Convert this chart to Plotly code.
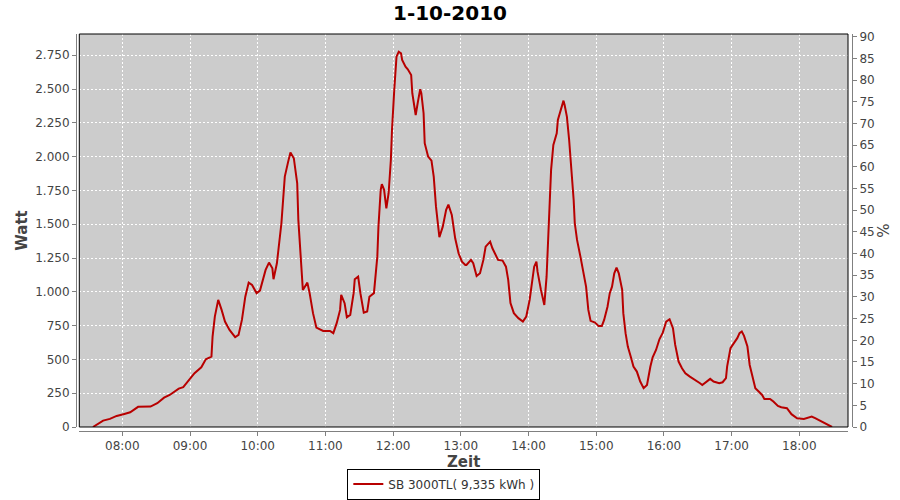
import plotly.graph_objects as go

day = "2010-10-01 "
times = [
    "07:34", "07:43", "07:49", "07:55", "08:01", "08:07", "08:14", "08:25", "08:31", "08:37",
    "08:42", "08:50", "08:54", "09:00", "09:04", "09:10", "09:14", "09:19", "09:20", "09:22",
    "09:25", "09:28", "09:31", "09:35", "09:40", "09:43", "09:46", "09:49", "09:52", "09:55",
    "09:59", "10:02", "10:07", "10:10", "10:13", "10:14", "10:17", "10:21", "10:24", "10:27",
    "10:29", "10:32", "10:35", "10:36", "10:38", "10:40", "10:44", "10:46", "10:49", "10:52",
    "10:58", "11:04", "11:07", "11:10", "11:13", "11:14", "11:17", "11:19", "11:22", "11:25",
    "11:26", "11:29", "11:31", "11:34", "11:37", "11:39", "11:43", "11:46", "11:47", "11:49",
    "11:50", "11:52", "11:54", "11:56", "11:58", "11:59", "12:01", "12:03", "12:05", "12:07",
    "12:08", "12:11", "12:13", "12:16", "12:17", "12:19", "12:20", "12:22", "12:24", "12:25",
    "12:27", "12:28", "12:31", "12:34", "12:36", "12:38", "12:40", "12:41", "12:44", "12:47",
    "12:49", "12:52", "12:55", "12:58", "13:01", "13:04", "13:05", "13:09", "13:11", "13:14",
    "13:17", "13:20", "13:22", "13:26", "13:28", "13:31", "13:33", "13:37", "13:40", "13:42",
    "13:44", "13:47", "13:51", "13:55", "13:58", "14:01", "14:03", "14:05", "14:07", "14:08",
    "14:11", "14:13", "14:14", "14:16", "14:17", "14:18", "14:19", "14:20", "14:22", "14:25",
    "14:26", "14:29", "14:31", "14:32", "14:34", "14:36", "14:38", "14:40", "14:41", "14:43",
    "14:46", "14:49", "14:51", "14:53", "14:55", "14:59", "15:02", "15:05", "15:07", "15:10",
    "15:12", "15:14", "15:16", "15:18", "15:20", "15:23", "15:24", "15:26", "15:28", "15:31",
    "15:33", "15:36", "15:39", "15:42", "15:45", "15:48", "15:50", "15:53", "15:56", "15:59",
    "16:02", "16:05", "16:08", "16:10", "16:13", "16:16", "16:19", "16:23", "16:28", "16:32",
    "16:34", "16:38", "16:41", "16:44", "16:49", "16:52", "16:55", "16:56", "16:59", "17:02",
    "17:05", "17:07", "17:09", "17:11", "17:14", "17:16", "17:18", "17:21", "17:24", "17:27",
    "17:29", "17:34", "17:37", "17:41", "17:44", "17:49", "17:53", "17:58", "18:04", "18:08",
    "18:11", "18:14", "18:18", "18:23", "18:26", "18:29",
]
watt = [
    0, 47, 60, 82, 95, 109, 149, 151, 176, 217,
    237, 284, 294, 361, 398, 442, 501, 521, 669, 817,
    940, 866, 780, 718, 664, 681, 792, 964, 1068, 1051,
    990, 1009, 1162, 1216, 1174, 1093, 1211, 1507, 1852, 1963,
    2030, 1988, 1803, 1532, 1236, 1014, 1068, 990, 842, 735,
    711, 711, 694, 768, 866, 977, 916, 812, 829, 990,
    1093, 1112, 990, 846, 854, 964, 990, 1260, 1482, 1754,
    1796, 1754, 1618, 1729, 1975, 2197, 2493, 2739, 2776, 2764,
    2715, 2665, 2646, 2604, 2469, 2345, 2308, 2407, 2498, 2469,
    2321, 2099, 2000, 1970, 1852, 1630, 1458, 1404, 1482, 1606,
    1645, 1569, 1396, 1285, 1223, 1199, 1199, 1236, 1211, 1117,
    1137, 1236, 1334, 1371, 1322, 1265, 1236, 1231, 1186, 1088,
    916, 842, 805, 780, 817, 940, 1064, 1186, 1223, 1149,
    1014, 927, 903, 1112, 1334, 1581, 1754, 1902, 2086, 2173,
    2271, 2358, 2414, 2382, 2296, 2123, 1926, 1680, 1507, 1384,
    1260, 1137, 1038, 866, 785, 772, 748, 748, 792, 890,
    990, 1038, 1137, 1179, 1137, 1014, 842, 694, 595, 509,
    447, 410, 336, 287, 311, 447, 516, 570, 649, 698,
    780, 797, 731, 607, 484, 435, 398, 373, 348, 324,
    311, 336, 356, 336, 324, 331, 361, 447, 583, 620,
    657, 694, 706, 674, 595, 459, 385, 287, 262, 237,
    208, 208, 188, 156, 146, 139, 95, 65, 60, 72,
    77, 65, 47, 23, 10, 0,
]
x_range = ["2010-10-01 07:21:53", "2010-10-01 18:43:08"]
watt_range = [0, 2907]
pct_range = [0, 90.66]
pct_ticks = list(range(0, 91, 5))
watt_ticks = list(range(0, 2751, 250))
series_name = "SB 3000TL( 9,335 kWh )"
title_text = "1-10-2010"

xs = [day + t for t in times]

font_family = "DejaVu Sans, Verdana, sans-serif"
tick_font = dict(family=font_family, size=12, color="#444444")
title_font = dict(family=font_family, size=15, color="#444444")

fig = go.Figure()
fig.add_trace(go.Scatter(
    x=xs, y=watt, mode="lines", name=series_name,
    line=dict(color="#B80000", width=2),
    showlegend=True, hoverinfo="x+y",
))
# placeholder trace (no visible points) so the percent axis is drawn
fig.add_trace(go.Scatter(
    x=xs, y=[None] * len(xs), yaxis="y2", mode="lines",
    showlegend=False, hoverinfo="skip", line=dict(width=0),
))

grid = dict(showgrid=True, gridcolor="white", gridwidth=1, griddash="2px,2px")

fig.update_layout(
    width=900, height=500,
    margin=dict(l=76, r=48, t=34, b=69, autoexpand=False),
    paper_bgcolor="white", plot_bgcolor="white",
    separators=",.",
    title=dict(text="<b>" + title_text + "</b>", x=0.5, xanchor="center",
               y=1 - 13 / 500, yanchor="middle",
               font=dict(family=font_family, size=20, color="black")),
    xaxis=dict(
        type="date", range=x_range, domain=[0.00425, 0.99485],
        anchor="free", position=0, automargin=False,
        tickformat="%H:%M", dtick=3600000, tick0="2010-10-01 08:00",
        ticks="outside", ticklen=4, tickcolor="#808080",
        showline=True, linecolor="#808080", linewidth=1,
        tickfont=tick_font,
        title=dict(text="<b>Zeit</b>", font=title_font, standoff=1),
        **grid,
    ),
    yaxis=dict(
        range=watt_range, domain=[0.01008, 1],
        anchor="free", position=0, automargin=False,
        tickvals=watt_ticks, tickformat=",d",
        ticks="outside", ticklen=4, tickcolor="#808080",
        showline=True, linecolor="#808080", linewidth=1,
        zeroline=False, tickfont=tick_font,
        title=dict(text="<b>Watt</b>", font=title_font, standoff=2),
        **grid,
    ),
    yaxis2=dict(
        range=pct_range, domain=[0.01008, 1], overlaying="y", side="right",
        anchor="free", position=1, automargin=False,
        tickvals=pct_ticks,
        ticks="outside", ticklen=4, tickcolor="#808080",
        showline=True, linecolor="#808080", linewidth=1,
        zeroline=False, showgrid=False, tickfont=tick_font,
        title=dict(text="%", font=title_font, standoff=3),
    ),
    legend=dict(
        orientation="h", x=0.474, xanchor="center", y=-0.0945, yanchor="top",
        bordercolor="black", borderwidth=1, bgcolor="white",
        font=dict(family=font_family, size=12, color="#333333"),
        itemwidth=30,
    ),
    shapes=[
        dict(type="rect", xref="x domain", yref="y domain", x0=0, x1=1, y0=0, y1=1,
             fillcolor="#CCCCCC", line=dict(width=0), layer="below"),
        dict(type="rect", xref="x domain", yref="y domain", x0=0, x1=1, y0=0, y1=1,
             fillcolor="rgba(0,0,0,0)", line=dict(color="black", width=1), layer="above"),
    ],
)

fig.write_html(
    "out.html",
    config={"displayModeBar": False},
    post_script="document.body.style.margin='0';document.body.style.overflow='hidden';",
)
